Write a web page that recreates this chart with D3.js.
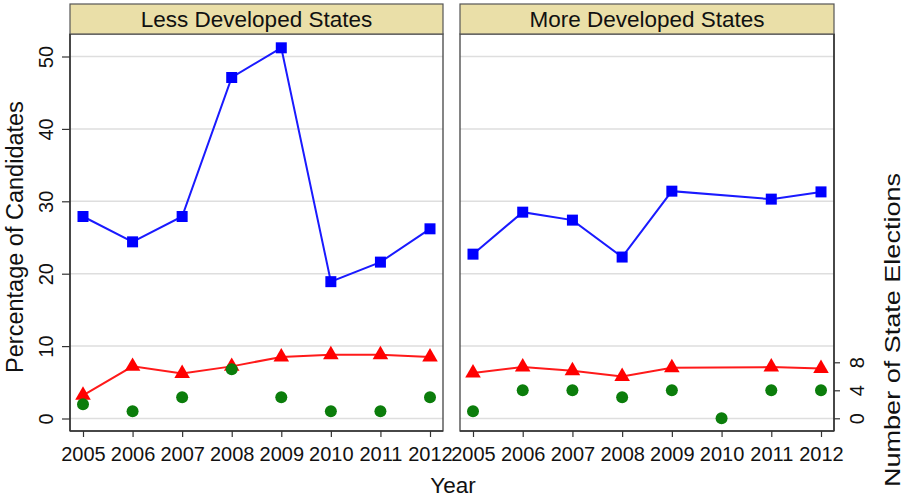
<!DOCTYPE html>
<html>
<head>
<meta charset="utf-8">
<script src="https://cdn.jsdelivr.net/npm/d3@7/dist/d3.min.js"></script>
<style>
  html, body { margin: 0; padding: 0; background: #fff; }
  svg { display: block; font-family: "Liberation Sans", Arial, Helvetica, sans-serif; }
</style>
</head>
<body>
<svg id="chart" width="906" height="498"></svg>
<script>
// Election years shown on the x axis
const years = [2005, 2006, 2007, 2008, 2009, 2010, 2011, 2012];

// Less developed states
const lessCandidatesHigh = [27.9, 24.4, 27.9, 47.1, 51.2, 18.9, 21.6, 26.2];
const lessCandidatesLow  = [3.2, 7.2, 6.2, 7.2, 8.5, 8.8, 8.8, 8.5];
const lessElections      = [2, 1, 3, 7, 3, 1, 1, 3];

// More developed states (no elections held in 2010)
const moreCandidatesHigh = [22.7, 28.5, 27.4, 22.3, 31.4, null, 30.3, 31.3];
const moreCandidatesLow  = [6.3, 7.1, 6.6, 5.8, 7.0, null, 7.1, 6.9];
const moreElections      = [1, 4, 4, 3, 4, 0, 4, 4];

// Axis tick values
const pctTicks = [0, 10, 20, 30, 40, 50];
const countTicks = [0, 4, 8];

const panels = [
  { title: "Less Developed States", high: lessCandidatesHigh, low: lessCandidatesLow, count: lessElections, x0: 70, x1: 443 },
  { title: "More Developed States", high: moreCandidatesHigh, low: moreCandidatesLow, count: moreElections, x0: 460, x1: 834 }
];

const svg = d3.select("#chart");
const plotTop = 34, plotBottom = 431, headerTop = 4;

const yPct = d3.scaleLinear().domain([0, 50]).range([418.5, 56.5]);
const yCount = d3.scaleLinear().domain([0, 8]).range([418.3, 362.3]);

const gridColor = "#dedede";
const axisColor = "#333";

panels.forEach((p, i) => {
  const x = d3.scaleLinear().domain([2005, 2012]).range([p.x0 + 13, p.x1 - 13]);
  const g = svg.append("g");

  // gridlines
  g.selectAll("line.grid").data(pctTicks).join("line")
    .attr("x1", p.x0).attr("x2", p.x1)
    .attr("y1", d => yPct(d)).attr("y2", d => yPct(d))
    .attr("stroke", gridColor).attr("stroke-width", 1.5);

  // panel frame
  g.append("rect")
    .attr("x", p.x0).attr("y", plotTop)
    .attr("width", p.x1 - p.x0).attr("height", plotBottom - plotTop)
    .attr("fill", "none").attr("stroke", "#444").attr("stroke-width", 1.3);

  // header strip
  g.append("rect")
    .attr("x", p.x0).attr("y", headerTop)
    .attr("width", p.x1 - p.x0).attr("height", plotTop - headerTop)
    .attr("fill", "#eadfa8").attr("stroke", "#555").attr("stroke-width", 1.2);
  g.append("text")
    .attr("x", (p.x0 + p.x1) / 2).attr("y", 27)
    .attr("text-anchor", "middle")
    .attr("font-size", 22.5).attr("fill", "#111")
    .text(p.title);

  // x axis
  const xAxis = d3.axisBottom(x).tickValues(years).tickFormat(d3.format("d")).tickSize(6).tickSizeOuter(0);
  const xg = g.append("g").attr("transform", `translate(0,${plotBottom})`).call(xAxis);
  xg.select(".domain").attr("stroke", axisColor).attr("stroke-width", 1.5)
    .attr("d", `M${p.x0},0H${p.x1}`);
  xg.selectAll(".tick line").attr("stroke", axisColor).attr("stroke-width", 1.2);
  xg.selectAll(".tick text").attr("font-size", 20).attr("fill", "#111")
    .attr("y", 0).attr("dy", 30)
    .attr("font-family", "Liberation Sans, Arial, sans-serif");

  // left axis on first panel
  if (i === 0) {
    const yAxis = d3.axisLeft(yPct).tickValues(pctTicks).tickSize(8).tickSizeOuter(0);
    const yg = g.append("g").attr("transform", `translate(${p.x0},0)`).call(yAxis);
    yg.select(".domain").attr("stroke", axisColor).attr("stroke-width", 1.5)
      .attr("d", `M0,${plotTop}V${plotBottom}`);
    yg.selectAll(".tick line").attr("stroke", axisColor).attr("stroke-width", 1.2);
    yg.selectAll(".tick text")
      .attr("font-size", 20).attr("fill", "#111")
      .attr("x", null).attr("dy", null)
      .attr("text-anchor", "middle")
      .attr("transform", "translate(-17,0) rotate(-90)");
  }

  // right axis on second panel
  if (i === 1) {
    const rAxis = d3.axisRight(yCount).tickValues(countTicks).tickSize(6).tickSizeOuter(0);
    const rg = g.append("g").attr("transform", `translate(${p.x1},0)`).call(rAxis);
    rg.select(".domain").attr("stroke", axisColor).attr("stroke-width", 1.5)
      .attr("d", `M0,${plotTop}V${plotBottom}`);
    rg.selectAll(".tick line").attr("stroke", axisColor).attr("stroke-width", 1.2);
    rg.selectAll(".tick text")
      .attr("font-size", 20).attr("fill", "#111")
      .attr("x", null).attr("dy", null)
      .attr("text-anchor", "middle")
      .attr("transform", "translate(30,0) rotate(-90)");
  }

  // series
  const highPts = years.map((yr, k) => ({ yr, v: p.high[k] })).filter(d => d.v != null);
  const lowPts = years.map((yr, k) => ({ yr, v: p.low[k] })).filter(d => d.v != null);
  const countPts = years.map((yr, k) => ({ yr, v: p.count[k] }));

  const line = d3.line().x(d => x(d.yr)).y(d => yPct(d.v));

  g.append("path").datum(highPts)
    .attr("d", line).attr("fill", "none")
    .attr("stroke", "#1a1aff").attr("stroke-width", 2);
  g.selectAll("rect.sq").data(highPts).join("rect")
    .attr("x", d => x(d.yr) - 5.5).attr("y", d => yPct(d.v) - 5.5)
    .attr("width", 11).attr("height", 11)
    .attr("fill", "#0000ff");

  g.append("path").datum(lowPts)
    .attr("d", line).attr("fill", "none")
    .attr("stroke", "#ff1a1a").attr("stroke-width", 2);
  g.selectAll("path.tri").data(lowPts).join("path")
    .attr("d", d3.symbol().type(d3.symbolTriangle).size(105))
    .attr("transform", d => `translate(${x(d.yr)},${yPct(d.v)})`)
    .attr("fill", "#ff0000");

  g.selectAll("circle.dot").data(countPts).join("circle")
    .attr("cx", d => x(d.yr)).attr("cy", d => yCount(d.v))
    .attr("r", 6)
    .attr("fill", "#0b7d0b");
});

// axis titles
svg.append("text")
  .attr("transform", "translate(23,237) rotate(-90)")
  .attr("text-anchor", "middle").attr("font-size", 23.5).attr("fill", "#111")
  .text("Percentage of Candidates");

svg.append("text")
  .attr("x", 453).attr("y", 493)
  .attr("text-anchor", "middle").attr("font-size", 22.5).attr("fill", "#111")
  .text("Year");

svg.append("text")
  .attr("transform", "translate(900,330) rotate(-90)")
  .attr("text-anchor", "middle").attr("font-size", 21.5).attr("fill", "#111")
  .attr("textLength", 314).attr("lengthAdjust", "spacingAndGlyphs")
  .text("Number of State Elections");
</script>
</body>
</html>
